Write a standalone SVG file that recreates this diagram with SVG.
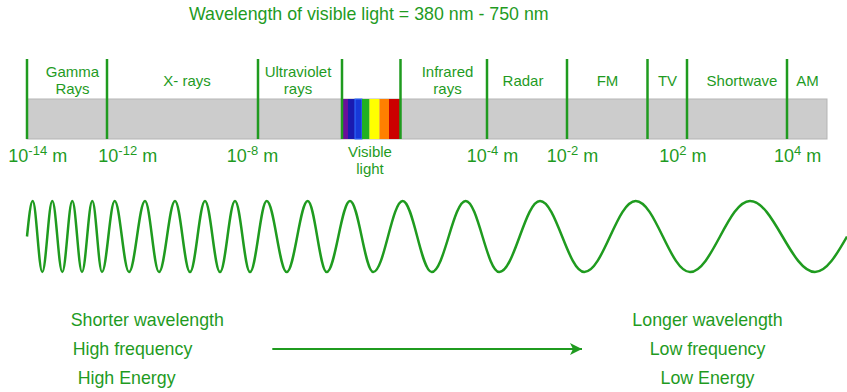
<svg xmlns="http://www.w3.org/2000/svg" width="847" height="392" viewBox="0 0 847 392">
<defs>
<style>
text{font-family:"Liberation Sans",Arial,sans-serif;fill:#1f9b1f}
.t{font-size:17.8px}
.c{font-size:15px;text-anchor:middle}
.s{font-size:18px}
.sup{font-size:13px}
.div{stroke:#1f9b1f;stroke-width:2.5}
</style>
<marker id="ah" markerWidth="12" markerHeight="12" refX="12" refY="6" orient="auto" markerUnits="userSpaceOnUse">
<path d="M0,0 L12,6 L0,12 L3,6 Z" fill="#1f9b1f"/>
</marker>
</defs>
<rect width="847" height="392" fill="#ffffff"/>

<text id="title" class="t" x="189" y="20">Wavelength of visible light = 380 nm - 750 nm</text>

<g id="bar">
<rect x="27" y="99" width="800" height="40" fill="#cccccc" stroke="#b5b5b5" stroke-width="1"/>
</g>

<g id="visible-spectrum">
<rect x="342" y="99" width="6" height="40" fill="#6a0f9a"/>
<rect x="348" y="99" width="7" height="40" fill="#1a1ab0"/>
<rect x="355" y="99" width="7" height="40" fill="#1838d8" stroke="#3070ff" stroke-width="1"/>
<rect x="362" y="99" width="7.5" height="40" fill="#22b022"/>
<rect x="369.5" y="99" width="10" height="40" fill="#ffff00"/>
<rect x="379.5" y="99" width="9.5" height="40" fill="#ff8000"/>
<rect x="389" y="99" width="12" height="40" fill="#cc0000"/>
</g>

<g id="dividers">
<line class="div" x1="27" y1="59" x2="27" y2="139"/>
<line class="div" x1="107" y1="59" x2="107" y2="139"/>
<line class="div" x1="258" y1="59" x2="258" y2="139"/>
<line class="div" x1="342" y1="59" x2="342" y2="139"/>
<line class="div" x1="400.5" y1="59" x2="400.5" y2="139"/>
<line class="div" x1="487" y1="59" x2="487" y2="139"/>
<line class="div" x1="567" y1="59" x2="567" y2="139"/>
<line class="div" x1="647.5" y1="59" x2="647.5" y2="139"/>
<line class="div" x1="687" y1="59" x2="687" y2="139"/>
<line class="div" x1="787" y1="59" x2="787" y2="139"/>
</g>

<g id="gamma"><text class="c" x="72.5" y="76.5">Gamma</text><text class="c" x="72.5" y="94">Rays</text></g>
<g id="xrays"><text class="c" x="187" y="85.5">X- rays</text></g>
<g id="ultraviolet"><text class="c" x="298" y="76.5">Ultraviolet</text><text class="c" x="298" y="94">rays</text></g>
<g id="visible"><text class="c" x="370" y="157">Visible</text><text class="c" x="370" y="174">light</text></g>
<g id="infrared"><text class="c" x="447.5" y="76.5">Infrared</text><text class="c" x="447.5" y="94">rays</text></g>
<g id="radar"><text class="c" x="523" y="85.5">Radar</text></g>
<g id="fm"><text class="c" x="607.5" y="85.5">FM</text></g>
<g id="tv"><text class="c" x="667.5" y="85.5">TV</text></g>
<g id="shortwave"><text class="c" x="742" y="85.5">Shortwave</text></g>
<g id="am"><text class="c" x="807.5" y="85.5">AM</text></g>

<g id="scale">
<text class="s" x="8.3" y="162">10<tspan class="sup" dy="-7">-14</tspan><tspan dy="7"> m</tspan></text>
<text class="s" x="98.3" y="162">10<tspan class="sup" dy="-7">-12</tspan><tspan dy="7"> m</tspan></text>
<text class="s" x="226.7" y="162">10<tspan class="sup" dy="-7">-8</tspan><tspan dy="7"> m</tspan></text>
<text class="s" x="466.7" y="162">10<tspan class="sup" dy="-7">-4</tspan><tspan dy="7"> m</tspan></text>
<text class="s" x="546.7" y="162">10<tspan class="sup" dy="-7">-2</tspan><tspan dy="7"> m</tspan></text>
<text class="s" x="659.3" y="162">10<tspan class="sup" dy="-7">2</tspan><tspan dy="7"> m</tspan></text>
<text class="s" x="774" y="162">10<tspan class="sup" dy="-7">4</tspan><tspan dy="7"> m</tspan></text>
</g>

<g id="wave">
<path fill="none" stroke="#1f9b1f" stroke-width="2.5" d="M27,236.5 C28.86,218.3 30.64,201 32.7,201 C36.19,201 38.81,272 42.3,272 C45.93,272 48.67,201 52.3,201 C55.93,201 58.67,272 62.3,272 C65.93,272 68.67,201 72.3,201 C75.82,201 78.48,272 82,272 C85.74,272 88.56,201 92.3,201 C95.82,201 98.48,272 102,272 C106.62,272 110.08,201 114.7,201 C119.9,201 123.8,272 129,272 C134.81,272 139.19,201 145,201 C150.09,201 153.91,272 159,272 C164.81,272 169.19,201 175,201 C180.45,201 184.55,272 190,272 C195.45,272 199.55,201 205,201 C210.45,201 214.55,272 220,272 C225.45,272 229.55,201 235,201 C240.45,201 244.55,272 250,272 C256.07,272 260.63,201 266.7,201 C273.97,201 279.43,272 286.7,272 C294.33,272 300.07,201 307.7,201 C314.6,201 319.8,272 326.7,272 C335.17,272 341.53,201 350,201 C358.47,201 364.83,272 373.3,272 C383.98,272 392.02,201 402.7,201 C413.24,201 421.16,272 431.7,272 C444.06,272 453.34,201 465.7,201 C477.91,201 487.09,272 499.3,272 C514.09,272 525.21,201 540,201 C556.1,201 568.2,272 584.3,272 C602.98,272 617.02,201 635.7,201 C655.43,201 670.27,272 690,272 C711.8,272 728.2,201 750,201 C773.62,201 791.38,272 815,272 C826.58,272 836.56,254.69 847,236.5"/>
</g>

<g id="left-labels">
<text class="t" x="70.7" y="326">Shorter wavelength</text>
<text class="t" x="72.7" y="355">High frequency</text>
<text class="t" x="77.7" y="384">High Energy</text>
</g>

<g id="right-labels">
<text class="t" x="707.5" y="326" text-anchor="middle">Longer wavelength</text>
<text class="t" x="707.5" y="355" text-anchor="middle">Low frequency</text>
<text class="t" x="707.5" y="384" text-anchor="middle">Low Energy</text>
</g>

<g id="connectors">
<line x1="272.3" y1="349" x2="582" y2="349" stroke="#1f9b1f" stroke-width="2.2" marker-end="url(#ah)"/>
</g>
</svg>
